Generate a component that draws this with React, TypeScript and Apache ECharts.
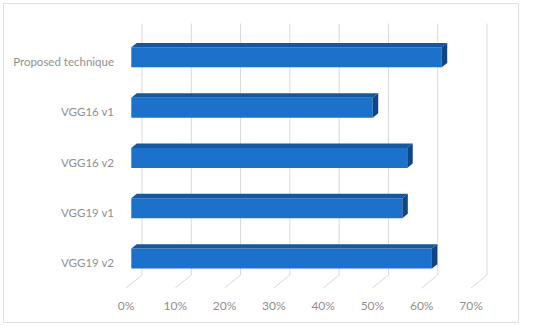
import React, { useEffect, useRef } from "react";
import * as echarts from "echarts";

const categories = ["Proposed technique", "VGG16 v1", "VGG16 v2", "VGG19 v1", "VGG19 v2"];
const values = [63, 49, 56, 55, 61];
const ticks = [0, 10, 20, 30, 40, 50, 60, 70];

const DX = 16; // depth projection x
const DY = -13; // depth projection y

export default function App() {
  const ref = useRef<HTMLDivElement>(null);
  useEffect(() => {
    if (!ref.current) return;
    const chart = echarts.init(ref.current, null, { renderer: "svg" });
    const font = "Lato, 'Open Sans', sans-serif";
    chart.setOption({
      animation: false,
      backgroundColor: "#ffffff",
      graphic: [
        {
          type: "rect",
          shape: { x: 3.5, y: 3.5, width: 515, height: 319 },
          style: { fill: "none", stroke: "#e0e0e0", lineWidth: 1 },
          silent: true,
          z: -10,
        },
      ],
      grid: { left: 126, top: 36.5, width: 345, height: 251.5 },
      xAxis: {
        type: "value",
        min: 0,
        max: 70,
        interval: 10,
        axisLine: { show: false },
        axisTick: { show: false },
        splitLine: { show: false },
        axisLabel: {
          formatter: "{value}%",
          color: "#8f8f8f",
          fontSize: 12,
          fontFamily: font,
          margin: 11,
        },
      },
      yAxis: {
        type: "category",
        data: categories,
        inverse: true,
        axisLine: { show: false },
        axisTick: { show: false },
        splitLine: { show: false },
        axisLabel: {
          color: "#8f8f8f",
          fontSize: 11.5,
          fontFamily: font,
          margin: 12,
        },
      },
      series: [
        {
          type: "custom",
          silent: true,
          z: 1,
          data: ticks.map((t) => [t, 0]),
          renderItem: (params: any, api: any) => {
            const cs = params.coordSys;
            const p = api.coord([api.value(0), 0]);
            const x = p[0];
            const bottom = cs.y + cs.height;
            const top = cs.y;
            const st = { stroke: "#d9d9d9", lineWidth: 1 };
            return {
              type: "group",
              children: [
                {
                  type: "line",
                  shape: { x1: x + DX, y1: top + DY, x2: x + DX, y2: bottom + DY },
                  style: st,
                },
                {
                  type: "line",
                  shape: { x1: x, y1: bottom, x2: x + DX, y2: bottom + DY },
                  style: st,
                },
              ],
            };
          },
        },
        {
          type: "custom",
          z: 2,
          data: values.map((v, i) => [v, i]),
          renderItem: (params: any, api: any) => {
            const v = api.value(0);
            const c = api.value(1);
            const s = api.coord([0, c]);
            const e = api.coord([v, c]);
            const t = 0.33;
            const d = 0.34;
            const ox = DX * t;
            const oy = DY * t;
            const ddx = DX * d;
            const ddy = DY * d;
            const h = 20;
            const x0 = s[0] + ox;
            const x1 = e[0] + ox;
            const yt = s[1] + oy - h / 2;
            const yb = yt + h;
            return {
              type: "group",
              children: [
                {
                  type: "rect",
                  shape: { x: x0, y: yt, width: x1 - x0, height: h },
                  style: { fill: "#1c72cb" },
                },
                {
                  type: "polygon",
                  shape: {
                    points: [
                      [x0, yt],
                      [x1, yt],
                      [x1 + ddx, yt + ddy],
                      [x0 + ddx, yt + ddy],
                    ],
                  },
                  style: { fill: "#16589e" },
                },
                {
                  type: "polygon",
                  shape: {
                    points: [
                      [x1, yt],
                      [x1 + ddx, yt + ddy],
                      [x1 + ddx, yb + ddy],
                      [x1, yb],
                    ],
                  },
                  style: { fill: "#0f4584" },
                },
              ],
            };
          },
        },
      ],
    });
    return () => chart.dispose();
  }, []);
  return (
    <div
      ref={ref}
      style={{ position: "absolute", left: 0, top: 0, width: 550, height: 326 }}
    />
  );
}
